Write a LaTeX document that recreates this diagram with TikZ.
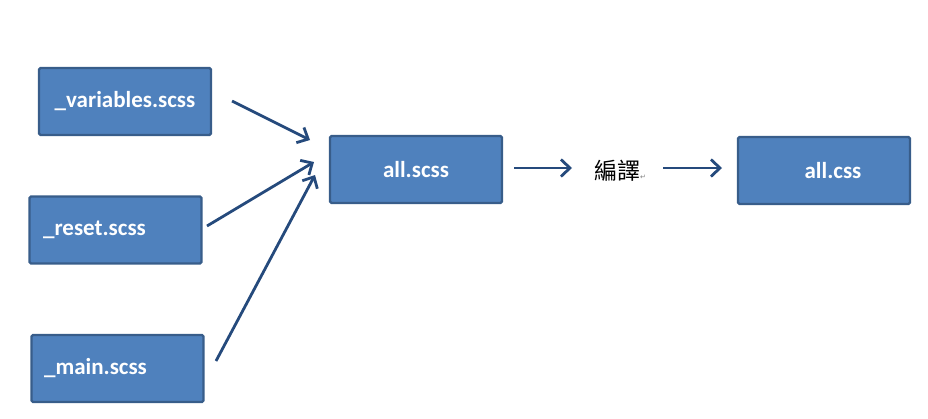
\documentclass[tikz,border=0pt]{standalone}
\usepackage{fontspec}
\setmainfont{Carlito}
\newfontfamily\cjkfont{Noto Sans CJK TC}
\newfontfamily\symfont{DejaVu Sans}
\usetikzlibrary{arrows.meta}
\definecolor{boxfill}{HTML}{4F81BD}
\definecolor{boxline}{HTML}{385D8A}
\definecolor{arrowcol}{HTML}{254A7C}
\tikzset{
  filebox/.style={draw=boxline, line width=2.4pt, fill=boxfill, rounded corners=1.5pt,
    minimum width=172pt, minimum height=67pt, inner sep=0pt,
    text=white, font=\fontsize{23}{26}\selectfont\bfseries},
  flow/.style={draw=arrowcol, line width=2.8pt,
    -{Straight Barb[length=9pt,width=17pt,line width=2.8pt]}}
}
\begin{document}
\begin{tikzpicture}[x=1pt,y=-1pt]
\useasboundingbox (0,0) rectangle (928,418);
\node[filebox] (var) at (125,101.5) {\_variables.scss};
\node[filebox] (reset) at (115.5,230) {\_reset.scss\kern42pt\null};
\node[filebox] (main) at (117.5,368.5) {\_main.scss\kern44pt\null};
\node[filebox] (all) at (416,169.5) {all.scss};
\node[filebox] (css) at (824,170.5) {\hspace{18pt}all.css};
\node[font=\cjkfont\fontsize{23}{26}\selectfont, inner sep=0pt] (comp) at (620,171) {編譯\raisebox{0pt}[0pt][0pt]{\color{gray}\symfont\fontsize{7}{8}\selectfont ↵}};
\coordinate (s1) at (232,101);  \coordinate (e1) at (310,140);
\coordinate (s2) at (207,226);  \coordinate (e2) at (314,162);
\coordinate (s3) at (216,361);  \coordinate (e3) at (315,175);
\coordinate (s4) at (514,168);  \coordinate (e4) at (572,168);
\coordinate (s5) at (663,168);  \coordinate (e5) at (722,168);
\draw[flow] (s1) -- (e1);
\draw[flow] (s2) -- (e2);
\draw[flow] (s3) -- (e3);
\draw[flow] (s4) -- (e4);
\draw[flow] (s5) -- (e5);
\end{tikzpicture}
\end{document}
